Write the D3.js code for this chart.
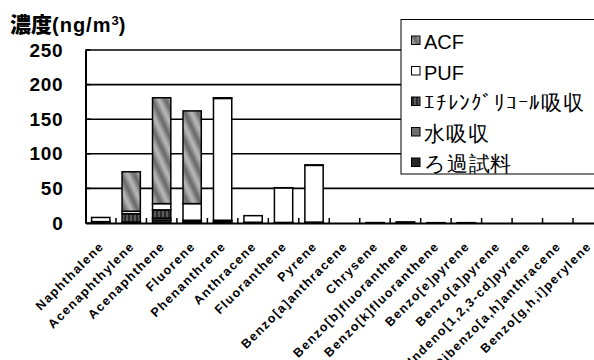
<!DOCTYPE html>
<html>
<head>
<meta charset="utf-8">
<script src="https://cdn.jsdelivr.net/npm/d3@7"></script>
<style>
  html, body { margin: 0; padding: 0; background: #fff; }
  svg { display: block; }
  text { font-family: "Liberation Sans", Arial, sans-serif; fill: #000; }
</style>
</head>
<body>
<svg id="chart" width="594" height="360"></svg>
<script>
// PAH concentrations by sampling fraction (ng/m3)
const categories = [
  "Naphthalene", "Acenaphthylene", "Acenaphthene", "Fluorene", "Phenanthrene",
  "Anthracene", "Fluoranthene", "Pyrene", "Benzo[a]anthracene", "Chrysene",
  "Benzo[b]fluoranthene", "Benzo[k]fluoranthene", "Benzo[e]pyrene",
  "Benzo[a]pyrene", "Indeno[1,2,3-cd]pyrene", "Dibenzo[a,h]anthracene",
  "Benzo[g,h,i]perylene"
];
// stacked from the bottom up
const filterSample = [1, 0.5, 4, 2.5, 1, 0.3, 0.3, 0.5, 0, 0.3, 0.3, 0.2, 0.2, 0, 0, 0, 0];
const waterAbs     = [0.5, 1, 3, 0.5, 2, 0.5, 0.3, 0.5, 0, 0, 0.3, 0, 0, 0, 0, 0, 0];
const glycolAbs    = [0.5, 12, 12, 1, 1, 0.3, 0.2, 0.3, 0, 0, 0, 0, 0, 0, 0, 0, 0];
const puf          = [6, 3.5, 9, 24, 176, 9.5, 50, 82, 0, 0.3, 1, 0.3, 0.3, 0, 0, 0, 0];
const acf          = [0, 57, 153, 134, 1, 0, 0.2, 0.7, 0, 0, 0, 0, 0, 0, 0, 0, 0];

const yTicks = [0, 50, 100, 150, 200, 250];
const seriesNames = ["ろ過試料", "水吸収", "ｴﾁﾚﾝｸﾞﾘｺｰﾙ吸収", "PUF", "ACF"];
const seriesValues = [filterSample, waterAbs, glycolAbs, puf, acf];
const legendOrder = ["ACF", "PUF", "ｴﾁﾚﾝｸﾞﾘｺｰﾙ吸収", "水吸収", "ろ過試料"];

const svg = d3.select("#chart");
const defs = svg.append("defs");

// ACF: grey with soft diagonal light streaks
const g1 = defs.append("linearGradient").attr("id", "acfGrad")
  .attr("x1", "0").attr("x2", "1").attr("y1", "0").attr("y2", "0");
g1.append("stop").attr("offset", "0").attr("stop-color", "#656565");
g1.append("stop").attr("offset", "0.5").attr("stop-color", "#bcbcbc");
g1.append("stop").attr("offset", "1").attr("stop-color", "#656565");
const pAcf = defs.append("pattern").attr("id", "acfPat")
  .attr("patternUnits", "userSpaceOnUse").attr("width", 12).attr("height", 12)
  .attr("patternTransform", "rotate(-25)");
pAcf.append("rect").attr("width", 12).attr("height", 12).attr("fill", "url(#acfGrad)");

// glycol: dark vertical stripes
const pGly = defs.append("pattern").attr("id", "glyPat")
  .attr("patternUnits", "userSpaceOnUse").attr("width", 4).attr("height", 4);
pGly.append("rect").attr("width", 4).attr("height", 4).attr("fill", "#2a2a2a");
pGly.append("rect").attr("x", 2).attr("width", 2).attr("height", 4).attr("fill", "#5a5a5a");

const fills = {
  "ろ過試料": "#262626",
  "水吸収": "#6e6e6e",
  "ｴﾁﾚﾝｸﾞﾘｺｰﾙ吸収": "url(#glyPat)",
  "PUF": "#ffffff",
  "ACF": "url(#acfPat)"
};

const plotLeft = 85.5, plotTop = 50, plotBottom = 223;
const step = 30.47;
const x = d3.scaleBand().domain(categories)
  .range([plotLeft, plotLeft + step * categories.length])
  .paddingInner(0.4).paddingOuter(0.2);
const y = d3.scaleLinear().domain([0, 250]).range([plotBottom, plotTop]);

// gridlines
svg.append("g").selectAll("line").data(yTicks.filter(d => d > 0)).join("line")
  .attr("x1", plotLeft).attr("x2", 600)
  .attr("y1", d => y(d)).attr("y2", d => y(d))
  .attr("stroke", "#000").attr("stroke-width", 1.6);

// stacked bars
const rows = categories.map((c, i) => {
  const r = { cat: c };
  seriesNames.forEach((s, k) => r[s] = seriesValues[k][i]);
  return r;
});
const stacked = d3.stack().keys(seriesNames)(rows);
stacked.forEach(layer => {
  svg.append("g").selectAll("rect")
    .data(layer.filter(d => d[1] - d[0] > 0))
    .join("rect")
    .attr("x", d => x(d.data.cat))
    .attr("width", x.bandwidth())
    .attr("y", d => y(d[1]))
    .attr("height", d => y(d[0]) - y(d[1]))
    .attr("fill", fills[layer.key])
    .attr("stroke", "#000").attr("stroke-width", 1.5);
});

// axes
const yAxis = svg.append("g").attr("transform", `translate(${plotLeft},0)`)
  .call(d3.axisLeft(y).tickValues(yTicks).tickSize(0).tickPadding(22));
yAxis.select(".domain").attr("stroke", "#000").attr("stroke-width", 2);
yAxis.selectAll("text").attr("font-size", 19).attr("font-weight", "bold")
  .attr("letter-spacing", "0.8px")
  .attr("font-family", "Liberation Sans, Arial, sans-serif");
// inner y tick marks
svg.append("g").selectAll("line").data(yTicks).join("line")
  .attr("x1", plotLeft).attr("x2", plotLeft + 5)
  .attr("y1", d => y(d)).attr("y2", d => y(d))
  .attr("stroke", "#000").attr("stroke-width", 1.5);

const xAxis = svg.append("g").attr("transform", `translate(0,${plotBottom})`)
  .call(d3.axisBottom(x).tickSize(0).tickFormat(""));
xAxis.select(".domain").attr("stroke", "#000").attr("stroke-width", 2);
// category separators
svg.append("g").selectAll("line").data(categories.slice(1)).join("line")
  .attr("x1", d => x(d) - x.step() * x.paddingInner() / 2)
  .attr("x2", d => x(d) - x.step() * x.paddingInner() / 2)
  .attr("y1", plotBottom).attr("y2", plotBottom - 5)
  .attr("stroke", "#000").attr("stroke-width", 1.5);

// rotated category labels
svg.append("g").selectAll("text").data(categories).join("text")
  .attr("transform", d => `translate(${x(d) + x.bandwidth() / 2 + 4},${plotBottom + 24}) rotate(-45)`)
  .attr("text-anchor", "end")
  .attr("font-size", 12.5).attr("font-weight", "bold")
  .attr("letter-spacing", "1.4px")
  .text(d => d);

// title
svg.append("text").attr("x", 10).attr("y", 32)
  .attr("font-size", 20).attr("font-weight", "bold")
  .html('<tspan font-family="Noto Sans CJK JP" font-weight="900" font-size="21">濃度</tspan><tspan letter-spacing="1">(ng/m</tspan><tspan font-size="13" dy="-7">3</tspan><tspan dy="7">)</tspan>');

// legend
const lg = svg.append("g");
lg.append("rect").attr("x", 401).attr("y", 19.5).attr("width", 200).attr("height", 154.5)
  .attr("fill", "#fff").attr("stroke", "#000").attr("stroke-width", 1);
legendOrder.forEach((name, i) => {
  const cy = 41 + i * 30.5;
  const latin = /^[A-Z]+$/.test(name);
  lg.append("rect").attr("x", 411.5).attr("y", cy - 5).attr("width", 8.5).attr("height", 8.5)
    .attr("fill", fills[name]).attr("stroke", "#000").attr("stroke-width", 1);
  lg.append("text").attr("x", 424).attr("y", cy + 8)
    .attr("font-size", latin ? 20 : 21)
    .attr("letter-spacing", latin ? "0px" : "0.8px")
    .attr("font-family", latin ? "Liberation Sans, Arial, sans-serif" : "Noto Sans CJK JP, sans-serif")
    .text(name);
});
</script>
</body>
</html>
